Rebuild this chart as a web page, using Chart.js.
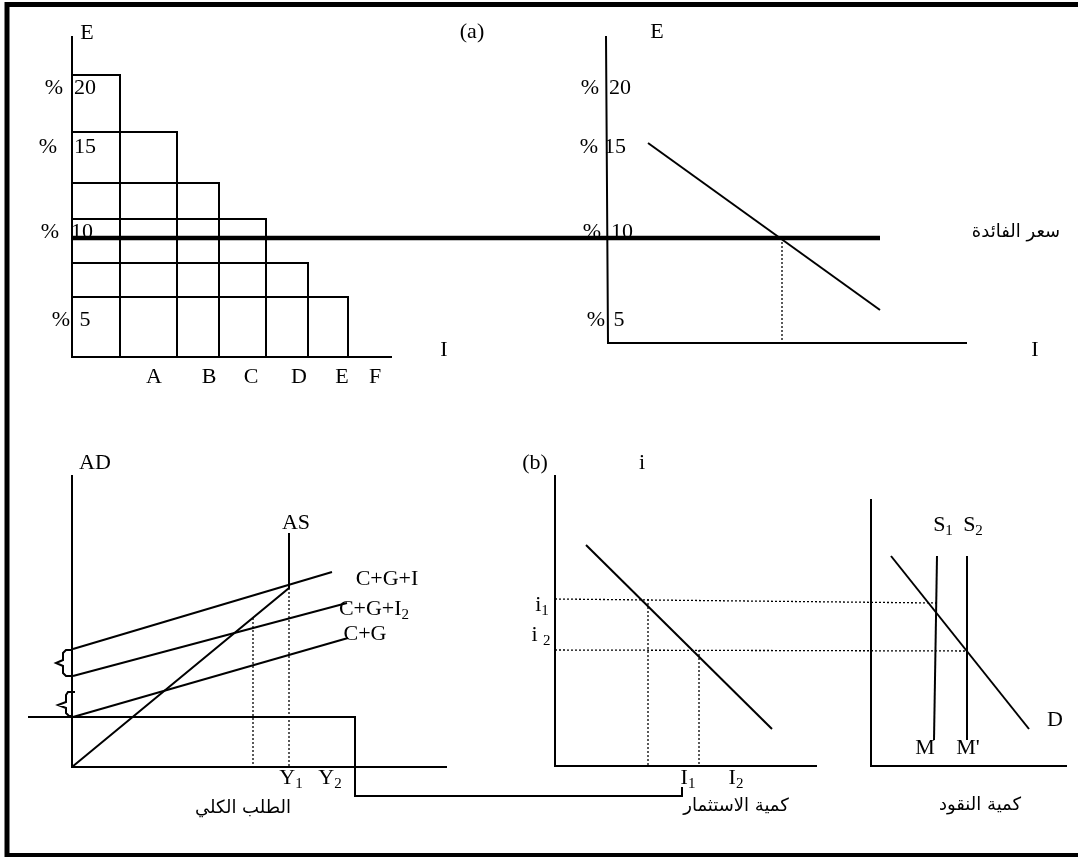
<!DOCTYPE html>
<html>
<head>
<meta charset="utf-8">
<script src="https://cdn.jsdelivr.net/npm/chart.js@4"></script>
<style>
  body { margin: 0; background: #fff; }
</style>
</head>
<body>
<canvas id="diagram" width="1078" height="857"></canvas>
<script>
// diagram units (1 unit = 1 px of the original sheet)

// panel (a), left: stair steps of the marginal efficiency of capital
const stepTops = [75, 132, 183, 219, 263, 297];
const stepEnds = [120, 177, 219, 266, 308, 348];
const stepBase = 357;
const stepLetters = ['A', 'B', 'C', 'D', 'E', 'F'];
const stepLetterX = [154, 209, 251, 299, 342, 375];

// rate ticks shared by both (a) panels
const rateTicks = ['20', '15', '10', '5'];
const rateTickY = [88, 147, 232, 320];
const leftPctX = [54, 48, 50, 61];
const leftNumX = [85, 85, 82, 85];
const rightPctX = [590, 589, 592, 596];
const rightNumX = [620, 615, 622, 619];

// panel (a)
const axesA1 = [[72, 36], [72, 357], [392, 357]];
const axesA2 = [[606, 36], [608, 343], [967, 343]];
const rateLine = [[72, 238], [880, 238]];
const efficiencyA2 = [[648, 143], [880, 310]];
const dropA2 = [[782, 238], [782, 343]];

// panel (b), aggregate demand
const axesB1 = [[72, 475], [72, 767], [447, 767]];
const supplyAS = [[72, 767], [289, 588], [289, 533]];
const lineCGI = [[73, 649], [332, 572]];
const lineCGI2 = [[73, 676], [347, 603]];
const lineCG = [[73, 717], [348, 638]];
const linkLine = [[28, 717], [355, 717], [355, 796], [682, 796], [682, 787]];
const dropY2 = [[253, 618], [253, 767]];
const dropY1 = [[289, 588], [289, 767]];
const brace1 = [[73, 650], [66, 650], [63, 653], [63, 660], [56, 663], [63, 666], [63, 673], [66, 676], [73, 676]];
const brace2 = [[75, 692], [68, 692], [66, 695], [66, 702], [58, 705], [66, 708], [66, 713], [69, 716], [73, 716]];

// panel (b), investment
const axesB2 = [[555, 475], [555, 766], [817, 766]];
const investDemand = [[586, 545], [772, 729]];
const rateI1 = [[555, 599], [937, 603]];
const rateI2 = [[555, 650], [967, 651]];
const dropI1 = [[648, 599], [648, 766]];
const dropI2 = [[699, 650], [699, 766]];

// panel (b), money market
const axesB3 = [[871, 499], [871, 766], [1067, 766]];
const supplyS1 = [[937, 556], [934, 740]];
const supplyS2 = [[967, 556], [967, 740]];
const moneyDemand = [[891, 556], [1029, 729]];

// frame (the right side falls outside the sheet)
const frame = [[1078, 4.5], [7, 4.5], [7, 855.5], [1078, 855.5]];

// labels
const serifLabels = [
  ['E', 87, 33], ['(a)', 472, 32], ['E', 657, 32],
  ['I', 444, 350], ['I', 1035, 350],
  ['AD', 95, 463], ['AS', 296, 523],
  ['C+G+I', 387, 579], ['C+G', 365, 634],
  ['(b)', 535, 463], ['i', 642, 463],
  ['M', 925, 748], ["M'", 968, 748], ['D', 1055, 720]
];
const subLabels = [
  ['C+G+I', '2', 374, 609],
  ['Y', '1', 291, 778], ['Y', '2', 330, 778],
  ['i', '1', 542, 605], ['i ', '2', 541, 635],
  ['I', '1', 688, 778], ['I', '2', 736, 778],
  ['S', '1', 943, 525], ['S', '2', 973, 525]
];
const arabicLabels = [
  ['سعر الفائدة', 1016, 232],
  ['الطلب الكلي', 243, 808],
  ['كمية الاستثمار', 736, 806],
  ['كمية النقود', 980, 805]
];

function toPoints(line) {
  return line.map(p => ({ x: p[0], y: p[1] }));
}

function makeSet(line, width, dash) {
  return {
    data: toPoints(line),
    showLine: true,
    borderColor: '#000',
    borderWidth: width,
    borderDash: dash || [],
    pointRadius: 0,
    fill: false,
    tension: 0,
    clip: false
  };
}

const solidLines = [axesA1, axesA2, efficiencyA2, axesB1, supplyAS, lineCGI, lineCGI2, lineCG,
  linkLine, brace1, brace2, axesB2, investDemand, axesB3, supplyS1, supplyS2, moneyDemand];
const dottedLines = [dropA2, dropY2, dropY1, rateI1, rateI2, dropI1, dropI2];

const datasets = [];
stepTops.forEach((top, i) => {
  datasets.push(makeSet([[72, top], [stepEnds[i], top], [stepEnds[i], stepBase]], 2));
});
solidLines.forEach(l => datasets.push(makeSet(l, 2)));
dottedLines.forEach(l => datasets.push(makeSet(l, 1.3, [2, 2])));
datasets.push(makeSet(rateLine, 4.5));
datasets.push(makeSet(frame, 5));

const SERIF = '"Liberation Serif", "Times New Roman", serif';
const MAIN = '22px ' + SERIF;
const SUB = '15px ' + SERIF;

// text layer drawn through the same scales
const textPlugin = {
  id: 'diagramText',
  afterDatasetsDraw(chart) {
    const ctx = chart.ctx;
    const sx = v => chart.scales.x.getPixelForValue(v);
    const sy = v => chart.scales.y.getPixelForValue(v);
    ctx.save();
    ctx.fillStyle = '#000';
    ctx.textBaseline = 'middle';
    ctx.textAlign = 'center';
    ctx.font = MAIN;

    serifLabels.forEach(l => ctx.fillText(l[0], sx(l[1]), sy(l[2])));

    stepLetters.forEach((t, i) => ctx.fillText(t, sx(stepLetterX[i]), sy(377)));

    rateTicks.forEach((t, i) => {
      ctx.fillText('%', sx(leftPctX[i]), sy(rateTickY[i]));
      ctx.fillText(t, sx(leftNumX[i]), sy(rateTickY[i]));
      ctx.fillText('%', sx(rightPctX[i]), sy(rateTickY[i]));
      ctx.fillText(t, sx(rightNumX[i]), sy(rateTickY[i]));
    });

    subLabels.forEach(l => {
      ctx.font = MAIN;
      const w1 = ctx.measureText(l[0]).width;
      ctx.font = SUB;
      const w2 = ctx.measureText(l[1]).width;
      const x0 = sx(l[2]) - (w1 + w2) / 2;
      ctx.textAlign = 'left';
      ctx.font = MAIN;
      ctx.fillText(l[0], x0, sy(l[3]));
      ctx.font = SUB;
      ctx.fillText(l[1], x0 + w1, sy(l[3]) + 6);
      ctx.textAlign = 'center';
    });

    ctx.font = '18px "DejaVu Sans", sans-serif';
    ctx.direction = 'rtl';
    arabicLabels.forEach(l => ctx.fillText(l[0], sx(l[1]), sy(l[2])));
    ctx.restore();
  }
};

new Chart(document.getElementById('diagram').getContext('2d'), {
  type: 'scatter',
  data: { datasets: datasets },
  options: {
    responsive: false,
    animation: false,
    layout: { padding: 0 },
    scales: {
      x: { type: 'linear', min: 0, max: 1078, display: false },
      y: { type: 'linear', min: 0, max: 857, reverse: true, display: false }
    },
    plugins: {
      legend: { display: false },
      tooltip: { enabled: false }
    }
  },
  plugins: [textPlugin]
});
</script>
</body>
</html>
